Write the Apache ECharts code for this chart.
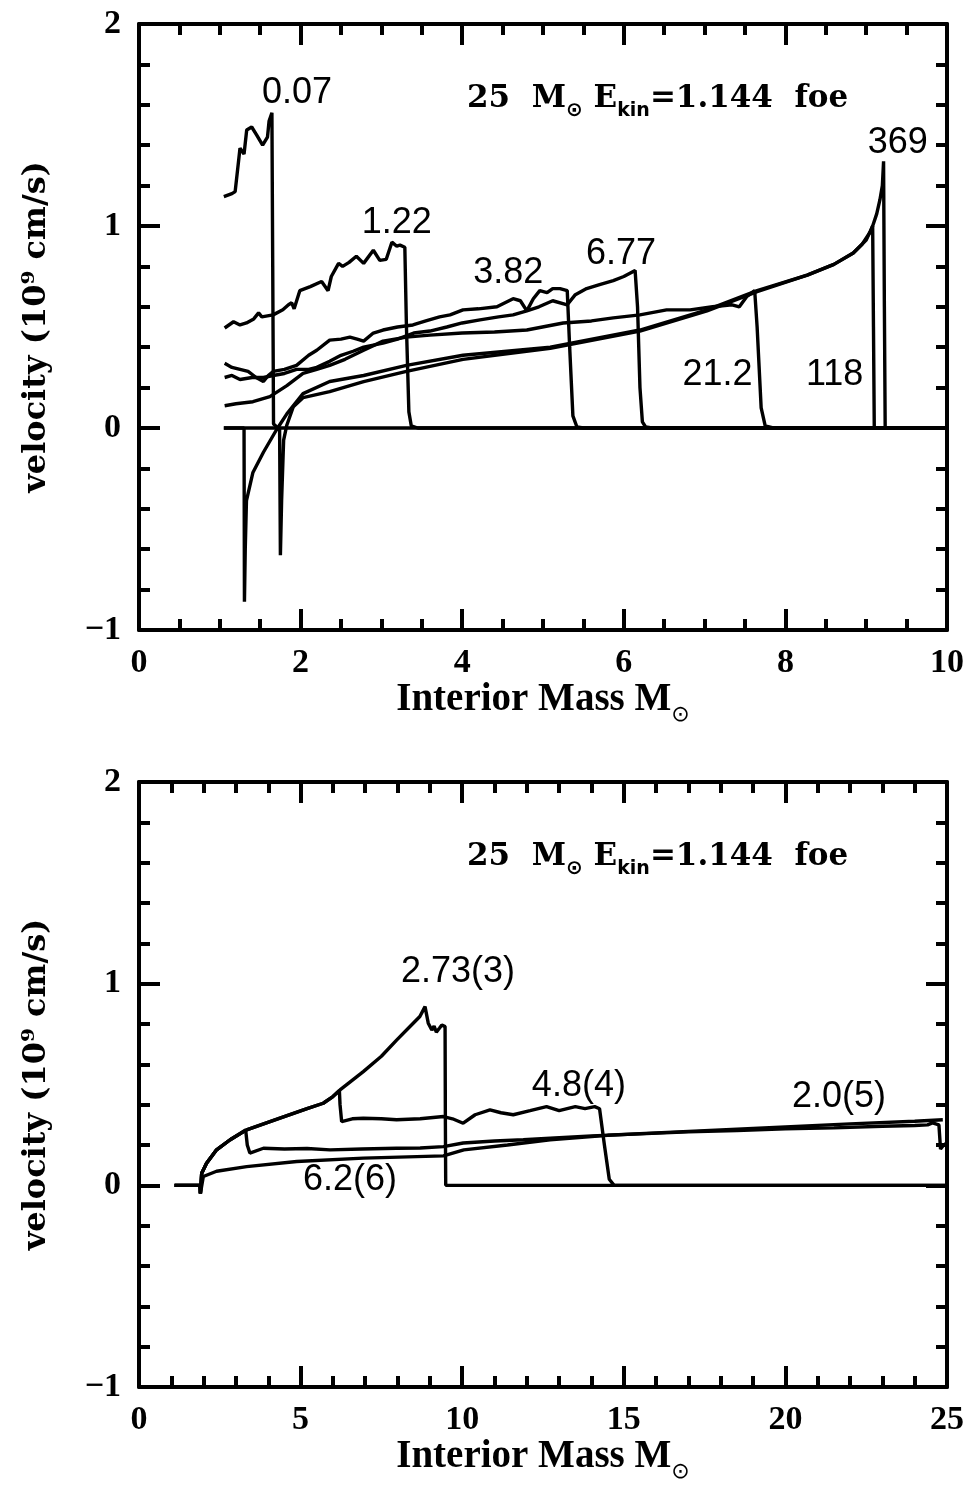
<!DOCTYPE html>
<html>
<head>
<meta charset="utf-8">
<script src="https://cdn.jsdelivr.net/npm/echarts@6/dist/echarts.min.js"></script>
<style>
  html, body { margin: 0; padding: 0; background: #fff; }
  #chart { width: 974px; height: 1488px; }
</style>
</head>
<body>
<div id="chart"></div>
<script>
// ---- top panel: velocity profiles (x = interior mass, y = velocity), labelled by time in s
const top007 = [[1.05,1.145],[1.15,1.16],[1.19,1.17],[1.25,1.385],[1.30,1.356],[1.333,1.475],[1.395,1.49],[1.457,1.45],[1.53,1.40],[1.59,1.44],[1.61,1.52],[1.645,1.56],[1.655,0.8],[1.665,0.02],[1.72,0],[10,0]];
const top122 = [[1.06,0.495],[1.17,0.526],[1.25,0.51],[1.33,0.52],[1.42,0.54],[1.48,0.57],[1.52,0.55],[1.66,0.56],[1.78,0.585],[1.85,0.61],[1.89,0.62],[1.92,0.59],[1.99,0.68],[2.12,0.70],[2.26,0.725],[2.34,0.68],[2.38,0.75],[2.47,0.815],[2.52,0.80],[2.6,0.82],[2.69,0.85],[2.78,0.815],[2.9,0.88],[2.98,0.83],[3.06,0.835],[3.13,0.92],[3.19,0.90],[3.23,0.905],[3.29,0.895],[3.31,0.5],[3.34,0.08],[3.37,0.01],[3.45,0],[10,0]];
const top382 = [[1.06,0.32],[1.15,0.30],[1.25,0.29],[1.35,0.28],[1.45,0.25],[1.54,0.23],[1.6,0.26],[1.66,0.28],[1.8,0.29],[1.95,0.31],[2.1,0.36],[2.2,0.385],[2.36,0.435],[2.5,0.44],[2.61,0.45],[2.7,0.44],[2.78,0.43],[2.9,0.47],[3.02,0.485],[3.2,0.50],[3.39,0.51],[3.55,0.53],[3.72,0.55],[3.85,0.56],[4.01,0.585],[4.2,0.59],[4.43,0.60],[4.63,0.64],[4.72,0.63],[4.8,0.58],[4.88,0.64],[4.96,0.68],[5.05,0.67],[5.12,0.69],[5.21,0.69],[5.3,0.68],[5.33,0.4],[5.37,0.06],[5.42,0.005],[5.5,0],[10,0]];
const top677 = [[1.06,0.25],[1.15,0.26],[1.25,0.24],[1.4,0.25],[1.54,0.25],[1.66,0.26],[1.8,0.27],[1.95,0.29],[2.1,0.29],[2.2,0.30],[2.36,0.33],[2.5,0.36],[2.65,0.38],[2.78,0.40],[3.02,0.42],[3.2,0.44],[3.4,0.47],[3.6,0.48],[3.81,0.50],[4.0,0.52],[4.22,0.535],[4.45,0.55],[4.63,0.56],[4.8,0.58],[4.95,0.60],[5.12,0.63],[5.3,0.61],[5.4,0.66],[5.54,0.69],[5.7,0.71],[5.87,0.73],[6.0,0.75],[6.14,0.78],[6.17,0.6],[6.2,0.2],[6.23,0.03],[6.27,0.005],[6.35,0],[10,0]];
const top212 = [[1.06,0.11],[1.2,0.12],[1.41,0.13],[1.62,0.155],[1.83,0.21],[2.03,0.27],[2.2,0.29],[2.36,0.31],[2.55,0.34],[2.78,0.385],[3.02,0.43],[3.31,0.45],[3.6,0.46],[4.0,0.47],[4.4,0.475],[4.8,0.485],[5.25,0.52],[5.6,0.53],[5.87,0.545],[6.2,0.56],[6.53,0.585],[6.82,0.585],[7.1,0.60],[7.34,0.61],[7.43,0.60],[7.52,0.65],[7.62,0.68],[7.65,0.5],[7.7,0.1],[7.75,0.01],[7.85,0],[10,0]];
const top118 = [[1.05,0],[1.3,0],[1.305,-0.86],[1.315,-0.6],[1.33,-0.36],[1.41,-0.22],[1.54,-0.12],[1.70,-0.01],[1.83,0.07],[2.03,0.17],[2.36,0.23],[2.78,0.26],[3.31,0.31],[4.01,0.36],[5.09,0.40],[6.2,0.485],[7.03,0.585],[7.65,0.68],[8.27,0.757],[8.6,0.81],[8.84,0.866],[8.95,0.91],[9.05,0.97],[9.08,1.0],[9.09,0.5],[9.1,0],[10,0]];
const top369 = [[1.05,0],[1.74,0],[1.75,-0.63],[1.765,-0.36],[1.79,-0.06],[1.83,0.015],[1.91,0.105],[2.03,0.15],[2.36,0.18],[2.78,0.23],[3.31,0.28],[4.01,0.34],[5.09,0.395],[6.2,0.48],[7.03,0.58],[7.65,0.675],[8.27,0.757],[8.6,0.81],[8.84,0.866],[9.0,0.93],[9.08,1.0],[9.13,1.06],[9.17,1.13],[9.2,1.2],[9.215,1.32],[9.225,0.6],[9.235,0],[10,0]];

// ---- bottom panel
const bot273 = [[1.1,0],[1.89,0],[1.9,-0.04],[1.94,0.06],[2.09,0.11],[2.4,0.176],[2.82,0.226],[3.33,0.275],[4.36,0.333],[5.2,0.38],[5.7,0.407],[6.0,0.44],[6.22,0.473],[6.94,0.564],[7.5,0.64],[7.97,0.72],[8.4,0.79],[8.69,0.837],[8.85,0.886],[8.95,0.804],[9.06,0.77],[9.13,0.79],[9.2,0.76],[9.3,0.78],[9.37,0.795],[9.47,0.787],[9.48,0.3],[9.49,0],[25,0]];
const bot48 = [[1.1,0],[1.89,0],[1.9,-0.04],[1.94,0.06],[2.09,0.11],[2.4,0.176],[2.82,0.226],[3.33,0.275],[4.36,0.333],[5.2,0.38],[5.7,0.407],[6.0,0.44],[6.2,0.47],[6.22,0.40],[6.27,0.316],[6.6,0.33],[6.94,0.333],[7.5,0.33],[7.97,0.325],[8.7,0.33],[9.42,0.341],[9.7,0.33],[10.03,0.308],[10.4,0.35],[10.86,0.374],[11.2,0.36],[11.58,0.35],[12.1,0.37],[12.61,0.39],[13.0,0.37],[13.5,0.39],[13.8,0.38],[14.1,0.39],[14.25,0.38],[14.4,0.2],[14.55,0.03],[14.7,0],[25,0]];
const bot20 = [[1.1,0],[1.89,0],[1.9,-0.04],[1.94,0.06],[2.09,0.11],[2.4,0.176],[2.82,0.226],[3.3,0.275],[3.35,0.2],[3.43,0.16],[3.85,0.184],[4.5,0.18],[5.2,0.183],[5.91,0.176],[6.9,0.18],[7.97,0.184],[8.7,0.185],[9.42,0.192],[10.03,0.21],[11,0.22],[11.89,0.226],[12.72,0.234],[14.0,0.245],[15.5,0.255],[17,0.265],[18.5,0.272],[20,0.28],[21.5,0.285],[23,0.293],[24.0,0.297],[24.4,0.30],[24.55,0.31],[24.75,0.30],[24.8,0.18],[24.9,0.2],[25,0.21]];
const bot62 = [[1.1,0],[1.89,0],[1.9,-0.04],[1.99,0.044],[2.4,0.07],[3.33,0.093],[4.88,0.118],[6.94,0.135],[9.42,0.146],[10.05,0.176],[11.4,0.2],[12.72,0.226],[14.5,0.248],[16,0.26],[18,0.275],[20,0.29],[22,0.305],[24,0.318],[24.87,0.325]];

// curve labels [x, y, text]
const topLabels = [[1.955,1.658,'0.07'],[3.19,1.015,'1.22'],[4.57,0.767,'3.82'],[5.965,0.861,'6.77'],[7.16,0.262,'21.2'],[8.61,0.262,'118'],[9.39,1.41,'369']];
const botLabels = [[9.87,1.058,'2.73(3)'],[13.61,0.493,'4.8(4)'],[21.66,0.438,'2.0(5)'],[6.53,0.027,'6.2(6)']];

const topXTicks = ['0','2','4','6','8','10'];
const botXTicks = ['0','5','10','15','20','25'];
const yTicks = ['\u22121','0','1','2'];

const serif = 'Liberation Serif';
const wideSerif = 'DejaVu Serif';

const chart = echarts.init(document.getElementById('chart'));

function xAxisPair(grid, max, step, minorSplit, ticks) {
  const base = {
    gridIndex: grid, type: 'value', min: 0, max: max, interval: step,
    axisLine: { onZero: false, lineStyle: { color: '#000', width: 4 } },
    axisTick: { inside: true, length: 21, lineStyle: { color: '#000', width: 4 } },
    minorTick: { show: true, splitNumber: minorSplit, length: 11, lineStyle: { color: '#000', width: 4 } },
    splitLine: { show: false }
  };
  return [
    Object.assign({}, base, {
      position: 'bottom',
      axisLabel: {
        margin: 16, color: '#000', fontFamily: serif, fontWeight: 'bold', fontSize: 34,
        formatter: v => ticks[Math.round(v / step)]
      },
      name: '{a|Interior Mass M}{s|\u2299}',
      nameLocation: 'middle', nameGap: 49,
      nameTextStyle: {
        color: '#000',
        rich: {
          a: { fontFamily: serif, fontWeight: 'bold', fontSize: 39, lineHeight: 38, verticalAlign: 'top', color: '#000' },
          s: { fontFamily: 'DejaVu Sans', fontSize: 22, lineHeight: 45, verticalAlign: 'bottom', color: '#000' }
        }
      }
    }),
    Object.assign({}, base, { position: 'top', axisLabel: { show: false } })
  ];
}

function yAxisPair(grid) {
  const base = {
    gridIndex: grid, type: 'value', min: -1, max: 2, interval: 1,
    axisLine: { onZero: false, lineStyle: { color: '#000', width: 4 } },
    axisTick: { inside: true, length: 21, lineStyle: { color: '#000', width: 4 } },
    minorTick: { show: true, splitNumber: 5, length: 11, lineStyle: { color: '#000', width: 4 } },
    splitLine: { show: false }
  };
  return [
    Object.assign({}, base, {
      position: 'left',
      axisLabel: {
        margin: 18, color: '#000', fontFamily: serif, fontWeight: 'bold', fontSize: 34,
        formatter: v => yTicks[Math.round(v) + 1]
      },
      name: 'velocity (10\u2079 cm/s)',
      nameLocation: 'middle', nameRotate: 90, nameGap: 86,
      nameTextStyle: { color: '#000', fontFamily: wideSerif, fontWeight: 'bold', fontSize: 32 }
    }),
    Object.assign({}, base, { position: 'right', axisLabel: { show: false } })
  ];
}

function curve(data, xi, yi) {
  return {
    type: 'line', xAxisIndex: xi, yAxisIndex: yi, data: data,
    showSymbol: false, symbol: 'none', smooth: false, silent: true,
    lineStyle: { color: '#000', width: 3.4 }, z: 3
  };
}

function labels(data, xi, yi) {
  return {
    type: 'scatter', xAxisIndex: xi, yAxisIndex: yi, data: data,
    symbolSize: 0, silent: true, z: 5,
    itemStyle: { opacity: 1, color: '#000' },
    label: {
      show: true, position: 'inside', formatter: p => p.data[2], opacity: 1,
      color: '#000', fontFamily: 'Liberation Sans', fontSize: 36
    }
  };
}

const titleRich = {
  a: { fontFamily: wideSerif, fontWeight: 'bold', fontSize: 31, lineHeight: 30, verticalAlign: 'top', color: '#000' },
  s: { fontFamily: 'DejaVu Sans', fontWeight: 'bold', fontSize: 19, lineHeight: 38, verticalAlign: 'bottom', color: '#000' },
  m: { fontFamily: 'DejaVu Sans', fontSize: 20, lineHeight: 38, verticalAlign: 'bottom', color: '#000' }
};
const titleText = '{a|25  M}{m|\u2299}{a| E}{s|kin}{a|=1.144  foe}';
const titleStyle = { fontFamily: wideSerif, fontWeight: 'bold', fontSize: 31, color: '#000', rich: titleRich };

const xa = xAxisPair(0, 10, 2, 4, topXTicks).concat(xAxisPair(1, 25, 5, 5, botXTicks));
const ya = yAxisPair(0).concat(yAxisPair(1));

chart.setOption({
  animation: false,
  backgroundColor: '#fff',
  title: [
    { text: titleText, left: 462, top: 78, textStyle: titleStyle },
    { text: titleText, left: 462, top: 836, textStyle: titleStyle }
  ],
  grid: [
    { left: 139, top: 24, width: 808, height: 606 },
    { left: 139, top: 782, width: 808, height: 605 }
  ],
  xAxis: xa,
  yAxis: ya,
  series: [
    curve(top007, 0, 0), curve(top122, 0, 0), curve(top382, 0, 0), curve(top677, 0, 0),
    curve(top212, 0, 0), curve(top118, 0, 0), curve(top369, 0, 0),
    labels(topLabels, 0, 0),
    curve(bot273, 2, 2), curve(bot48, 2, 2), curve(bot20, 2, 2), curve(bot62, 2, 2),
    labels(botLabels, 2, 2)
  ]
});
</script>
</body>
</html>
